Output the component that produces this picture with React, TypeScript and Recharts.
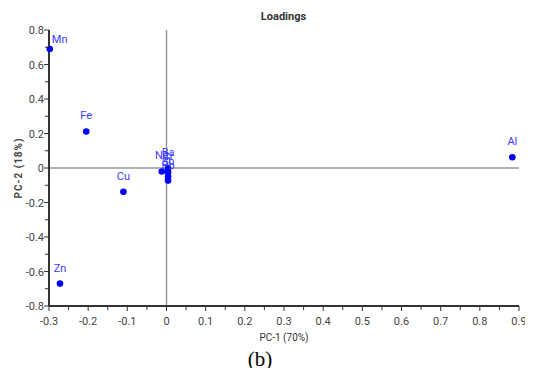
import React from 'react';
import {
  ScatterChart, Scatter, XAxis, YAxis, ReferenceLine, Label
} from 'recharts';

// PCA loadings
const elements = ['Mn', 'Fe', 'Cu', 'Zn', 'Na', 'Ba', 'Cr', 'Sb', 'Pb', 'Al'];
const pc1 = [-0.298, -0.205, -0.11, -0.272, -0.012, 0.004, 0.004, 0.004, 0.004, 0.883];
const pc2 = [0.69, 0.212, -0.138, -0.67, -0.02, -0.002, -0.025, -0.05, -0.073, 0.062];

const xMajor = [-0.3, -0.2, -0.1, 0, 0.1, 0.2, 0.3, 0.4, 0.5, 0.6, 0.7, 0.8, 0.9];
const xMinor = [-0.25, -0.15, -0.05, 0.05, 0.15, 0.25, 0.35, 0.45, 0.55, 0.65, 0.75, 0.85];
const yMajor = [-0.8, -0.6, -0.4, -0.2, 0, 0.2, 0.4, 0.6, 0.8];
const yMinor = [-0.7, -0.5, -0.3, -0.1, 0.1, 0.3, 0.5, 0.7];

const data = elements.map((name, i) => ({ name, x: pc1[i], y: pc2[i] }));

const isMajor = (list: number[], v: number) => list.some((m) => Math.abs(m - v) < 1e-6);
const fmt = (v: number) => (Math.abs(v) < 1e-6 ? '0' : String(Math.round(v * 10) / 10));

const PLOT_LEFT = 41;
const FONT = 'Roboto, Arial, sans-serif';

const XTick = ({ x, y, payload }: any) => {
  const major = isMajor(xMajor, payload.value);
  return (
    <g>
      <line x1={x} x2={x} y1={y} y2={y + (major ? 5 : 4)} stroke="#333" strokeWidth={1} />
      {major && (
        <text x={x} y={y + 19} textAnchor="middle" fontSize={11} fill="#444" fontFamily={FONT}>
          {fmt(payload.value)}
        </text>
      )}
    </g>
  );
};

const YTick = ({ x, y, payload }: any) => {
  const major = isMajor(yMajor, payload.value);
  return (
    <g>
      <line x1={x} x2={x - (major ? 5 : 4)} y1={y} y2={y} stroke="#333" strokeWidth={1} />
      {major && (
        <text x={x - 5} y={y + 4} textAnchor="end" fontSize={11} fill="#444" fontFamily={FONT}>
          {fmt(payload.value)}
        </text>
      )}
    </g>
  );
};

const Point = ({ cx, cy, payload }: any) => {
  // label sits above the dot; near the left axis it moves to the right instead
  const nearAxis = cx - PLOT_LEFT < 6;
  return (
    <g>
      <circle cx={cx} cy={cy} r={3.3} fill="#0000ff" />
      <text
        x={nearAxis ? cx + 2 : cx}
        y={nearAxis ? cy - 6 : cy - 12}
        textAnchor={nearAxis ? 'start' : 'middle'}
        fontSize={11}
        fill="#3b3bff"
        fontFamily={FONT}
      >
        {payload.name}
      </text>
    </g>
  );
};

export default function App() {
  return (
    <div style={{ position: 'relative', width: 525, height: 360 }}>
      <div
        style={{
          position: 'absolute', left: 0, width: 517, top: 2, textAlign: 'center',
          fontFamily: FONT, fontWeight: 'bold', fontSize: 11, color: '#333', paddingLeft: 34,
          boxSizing: 'border-box',
        }}
      >
        Loadings
      </div>
      <ScatterChart
        width={525}
        height={340}
        margin={{ top: 22, right: 14, bottom: 8, left: 0 }}
      >
        <XAxis
          type="number"
          dataKey="x"
          domain={[-0.3, 0.9]}
          ticks={[...xMajor, ...xMinor].sort((a, b) => a - b)}
          tick={<XTick />}
          tickSize={0}
          tickMargin={0}
          tickLine={false}
          axisLine={{ stroke: '#333', strokeWidth: 2 }}
          height={34}
          interval={0}
        >
          <Label value="PC-1 (70%)" position="insideBottom" offset={-1}
            style={{ fontSize: 10, fill: '#333', fontFamily: FONT }} />
        </XAxis>
        <YAxis
          type="number"
          dataKey="y"
          domain={[-0.8, 0.8]}
          ticks={[...yMajor, ...yMinor].sort((a, b) => a - b)}
          tick={<YTick />}
          tickSize={0}
          tickMargin={0}
          tickLine={false}
          axisLine={{ stroke: '#333', strokeWidth: 2 }}
          width={41}
          interval={0}
        >
          <Label value="PC-2 (18%)" angle={-90} position="insideLeft" offset={10}
            style={{ fontSize: 10, fill: '#444', fontFamily: FONT, fontWeight: 'bold', letterSpacing: 1, textAnchor: 'middle' }} />
        </YAxis>
        <ReferenceLine x={0} stroke="#999" strokeWidth={1.5} />
        <ReferenceLine y={0} stroke="#999" strokeWidth={1.5} />
        <Scatter data={data} shape={<Point />} isAnimationActive={false} />
      </ScatterChart>
      <div
        style={{
          position: 'absolute', left: 0, width: 517, top: 340, textAlign: 'center',
          fontFamily: '"Liberation Serif", "Times New Roman", serif', fontSize: 21, lineHeight: '22px',
          color: '#000', paddingRight: 13, boxSizing: 'border-box',
        }}
      >
        (b)
      </div>
    </div>
  );
}
